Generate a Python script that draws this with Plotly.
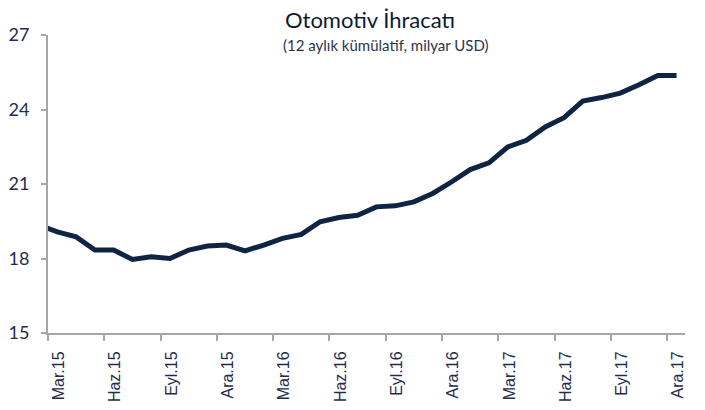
import plotly.graph_objects as go

# Monthly categories (first one only feeds the line's entry at the axis)
months = ["Şub.15", "Mar.15", "Nis.15", "May.15", "Haz.15", "Tem.15", "Ağu.15", "Eyl.15", "Eki.15", "Kas.15", "Ara.15",
          "Oca.16", "Şub.16", "Mar.16", "Nis.16", "May.16", "Haz.16", "Tem.16", "Ağu.16", "Eyl.16", "Eki.16", "Kas.16", "Ara.16",
          "Oca.17", "Şub.17", "Mar.17", "Nis.17", "May.17", "Haz.17", "Tem.17", "Ağu.17", "Eyl.17", "Eki.17", "Kas.17", "Ara.17"]

exports = [19.35, 19.07, 18.87, 18.34, 18.34, 17.96, 18.07, 18.00, 18.34, 18.50, 18.54,
           18.31, 18.54, 18.81, 18.97, 19.48, 19.65, 19.74, 20.08, 20.12, 20.28, 20.62, 21.08,
           21.58, 21.85, 22.49, 22.76, 23.30, 23.67, 24.34, 24.48, 24.66, 25.00, 25.37, 25.37]

tick_labels = ["Mar.15", "Haz.15", "Eyl.15", "Ara.15", "Mar.16", "Haz.16", "Eyl.16", "Ara.16",
               "Mar.17", "Haz.17", "Eyl.17", "Ara.17"]

y_ticks = [15, 18, 21, 24, 27]

# numeric position: Mar.15 = 0
xpos = [i - 1 for i in range(len(months))]
tick_pos = [months.index(lbl) - 1 - 0.5 for lbl in tick_labels]

fig = go.Figure()
fig.add_trace(go.Scatter(
    x=xpos, y=exports, mode="lines",
    line=dict(color="#0f2442", width=5, shape="linear"),
    hoverinfo="skip", showlegend=False,
))

fig.update_layout(
    width=705, height=410,
    margin=dict(l=48, r=20, t=35, b=77),
    paper_bgcolor="white", plot_bgcolor="white",
    xaxis=dict(
        range=[-0.5, 33.45], automargin=False,
        tickmode="array", tickvals=tick_pos, ticktext=tick_labels,
        tickangle=-90, ticklabelshift=11,
        ticks="outside", ticklen=6, tickcolor="#a6a6a6", tickwidth=1.5,
        showline=True, linecolor="#a6a6a6", linewidth=2,
        showgrid=False, zeroline=False,
        tickfont=dict(family="Liberation Sans", size=16, color="#1f2d4a"),
        ticklabelstandoff=4,
    ),
    yaxis=dict(
        range=[15, 27], automargin=False,
        tickmode="array", tickvals=y_ticks, ticktext=[str(v) for v in y_ticks],
        ticks="outside", ticklen=5, tickcolor="#a6a6a6", tickwidth=1.5,
        showline=True, linecolor="#a6a6a6", linewidth=2,
        showgrid=False, zeroline=False,
        tickfont=dict(family="Lato", size=18, color="#1f2d4a"),
        ticklabelstandoff=8,
    ),
    annotations=[
        dict(text="Otomotiv İhracatı", xref="paper", yref="paper",
             x=(370 - 48) / 637, y=1 + (35 - 19) / 298, xanchor="center", yanchor="middle",
             showarrow=False, font=dict(family="Lato", size=22, color="#0b1b36")),
        dict(text="(12 aylık kümülatif, milyar USD)", xref="paper", yref="paper",
             x=(386 - 48) / 637, y=1 + (35 - 45) / 298, xanchor="center", yanchor="middle",
             showarrow=False, font=dict(family="Lato", size=15, color="#2a3550")),
    ],
)

fig.write_html("out.html")
